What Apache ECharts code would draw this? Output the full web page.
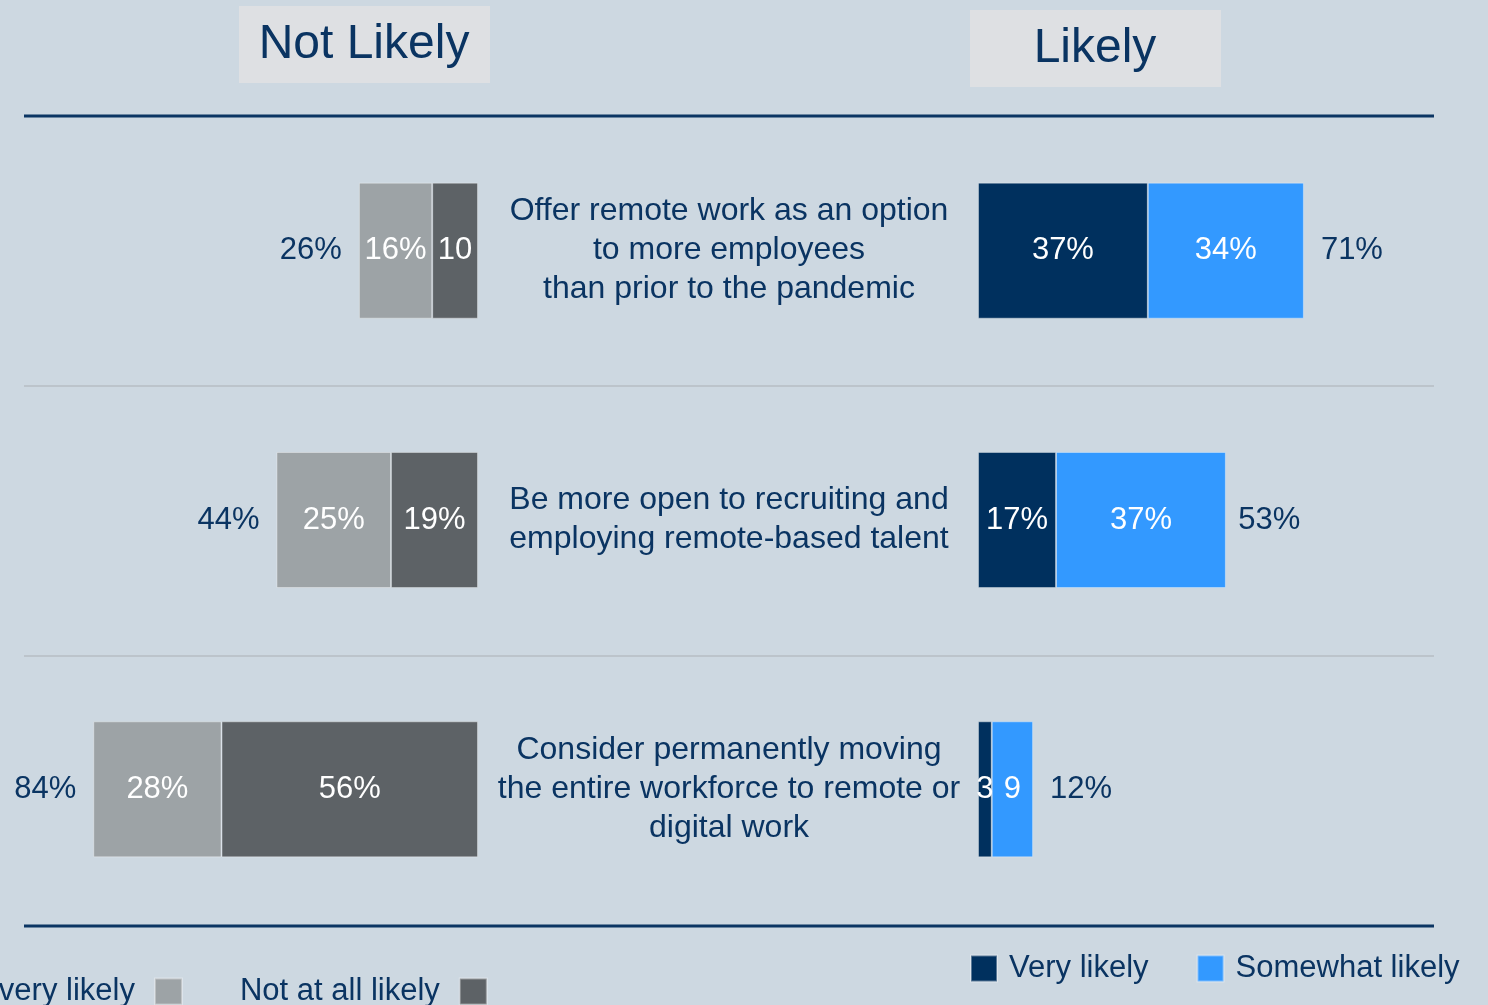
<!DOCTYPE html>
<html>
<head>
<meta charset="utf-8">
<style>
  html, body { margin: 0; padding: 0; background: #cdd8e1; }
  #chart { width: 1488px; height: 1005px; }
</style>
<script src="https://cdn.jsdelivr.net/npm/echarts@6/dist/echarts.min.js"></script>
</head>
<body>
<div id="chart"></div>
<script>
// survey statements (top to bottom)
var categories = [
  'Offer remote work as an option\nto more employees\nthan prior to the pandemic',
  'Be more open to recruiting and\nemploying remote-based talent',
  'Consider permanently moving\nthe entire workforce to remote or\ndigital work'
]
var notAtAllLikely = [10, 19, 56]
var notVeryLikely = [16, 25, 28]
var veryLikely = [37, 17, 3]
var somewhatLikely = [34, 37, 9]
var notLikelyTotal = [26, 44, 84]
var likelyTotal = [71, 53, 12]

var navy = '#0a3462'
var font = 'Liberation Sans, Arial, sans-serif'

var chart = echarts.init(document.getElementById('chart'))

// narrow segments drop the % sign
function inner(p) {
  return p.value > 12 ? p.value + '%' : String(p.value)
}
var innerLabel = { show: true, position: 'inside', color: '#fff', fontSize: 31, fontFamily: font, formatter: inner }
var barBorder = { borderColor: 'rgba(255,255,255,0.35)', borderWidth: 1 }

chart.setOption({
  backgroundColor: '#cdd8e1',
  animation: false,
  textStyle: { fontFamily: font },
  grid: [
    { left: 20, width: 458, top: 116, height: 808 },
    { left: 978, width: 459, top: 116, height: 808 }
  ],
  xAxis: [
    { gridIndex: 0, type: 'value', min: 0, max: 100, inverse: true, show: false },
    { gridIndex: 1, type: 'value', min: 0, max: 100, show: false }
  ],
  yAxis: [
    { gridIndex: 0, type: 'category', data: categories, inverse: true,
      axisLine: { show: false }, axisTick: { show: false }, axisLabel: { show: false } },
    { gridIndex: 1, type: 'category', data: categories, inverse: true,
      axisLine: { show: false }, axisTick: { show: false },
      axisLabel: { margin: 249, align: 'center', fontSize: 32, lineHeight: 39, color: navy, fontFamily: font } }
  ],
  legend: [
    {
      data: ['Not very likely', 'Not at all likely'],
      left: -58, top: 976, align: 'right', padding: 0,
      itemWidth: 27, itemHeight: 26, itemGap: 57, icon: 'rect',
      textStyle: { fontSize: 31, color: navy, fontFamily: font, padding: [0, 15, 0, 0] }
    },
    {
      data: ['Very likely', 'Somewhat likely'],
      left: 970, top: 953, padding: 0,
      itemWidth: 26, itemHeight: 26, itemGap: 48, icon: 'rect',
      textStyle: { fontSize: 31, color: navy, fontFamily: font, padding: [0, 0, 0, 7] }
    }
  ],
  graphic: [
    { type: 'rect', shape: { x: 239, y: 6, width: 251, height: 77 }, style: { fill: '#dee0e3' } },
    { type: 'text', x: 364, y: 45, style: { text: 'Not Likely', fill: navy, font: '48px ' + font, align: 'center', verticalAlign: 'middle' } },
    { type: 'rect', shape: { x: 970, y: 10, width: 251, height: 77 }, style: { fill: '#dee0e3' } },
    { type: 'text', x: 1095, y: 49, style: { text: 'Likely', fill: navy, font: '48px ' + font, align: 'center', verticalAlign: 'middle' } },
    { type: 'line', shape: { x1: 24, y1: 116, x2: 1434, y2: 116 }, style: { stroke: '#0b3563', lineWidth: 3 } },
    { type: 'line', shape: { x1: 24, y1: 386, x2: 1434, y2: 386 }, style: { stroke: '#bcc4cb', lineWidth: 2 } },
    { type: 'line', shape: { x1: 24, y1: 656, x2: 1434, y2: 656 }, style: { stroke: '#bcc4cb', lineWidth: 2 } },
    { type: 'line', shape: { x1: 24, y1: 926, x2: 1434, y2: 926 }, style: { stroke: '#0b3563', lineWidth: 3 } }
  ],
  series: [
    {
      name: 'Not at all likely', type: 'bar', stack: 'not', xAxisIndex: 0, yAxisIndex: 0,
      barWidth: 136, data: notAtAllLikely, label: innerLabel,
      itemStyle: Object.assign({ color: '#5d6266' }, barBorder)
    },
    {
      name: 'Not very likely', type: 'bar', stack: 'not', xAxisIndex: 0, yAxisIndex: 0,
      barWidth: 136, data: notVeryLikely, label: innerLabel,
      itemStyle: Object.assign({ color: '#9da3a6' }, barBorder)
    },
    {
      name: 'notTotal', type: 'bar', xAxisIndex: 0, yAxisIndex: 0, barGap: '-100%',
      barWidth: 136, data: notLikelyTotal, silent: true, z: 1,
      itemStyle: { color: 'rgba(0,0,0,0)' },
      label: { show: true, position: 'left', distance: 17, color: navy, fontSize: 31, fontFamily: font, formatter: '{c}%' }
    },
    {
      name: 'Very likely', type: 'bar', stack: 'yes', xAxisIndex: 1, yAxisIndex: 1,
      barWidth: 136, data: veryLikely, label: innerLabel,
      itemStyle: Object.assign({ color: '#00305e' }, barBorder)
    },
    {
      name: 'Somewhat likely', type: 'bar', stack: 'yes', xAxisIndex: 1, yAxisIndex: 1,
      barWidth: 136, data: somewhatLikely, label: innerLabel,
      itemStyle: Object.assign({ color: '#3399ff' }, barBorder)
    },
    {
      name: 'yesTotal', type: 'bar', xAxisIndex: 1, yAxisIndex: 1, barGap: '-100%',
      barWidth: 136, data: likelyTotal, silent: true, z: 1,
      itemStyle: { color: 'rgba(0,0,0,0)' },
      label: { show: true, position: 'right', distance: 17, color: navy, fontSize: 31, fontFamily: font, formatter: '{c}%' }
    }
  ]
})
</script>
</body>
</html>
